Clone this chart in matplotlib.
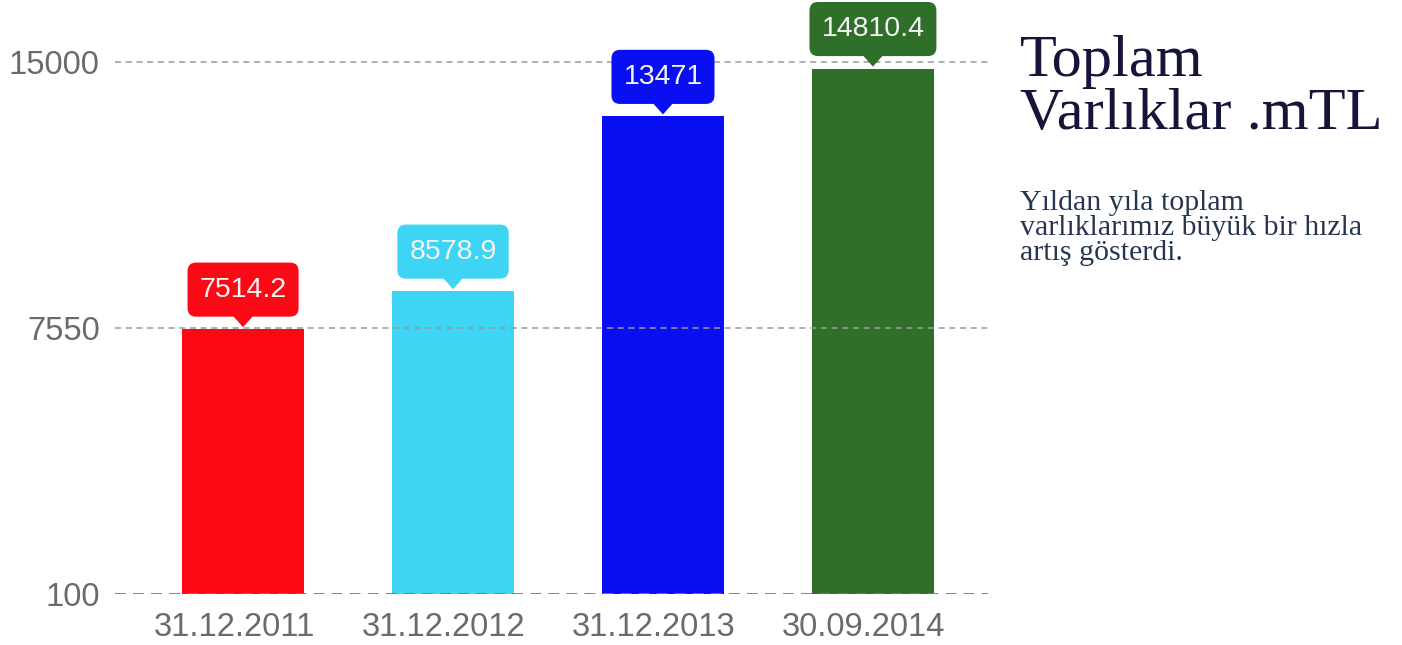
import matplotlib.pyplot as plt
from matplotlib.path import Path
from matplotlib.transforms import ScaledTranslation

tarihler = ["31.12.2011", "31.12.2012", "31.12.2013", "30.09.2014"]
varliklar = [7514.2, 8578.9, 13471, 14810.4]
etiketler = ["7514.2", "8578.9", "13471", "14810.4"]
renkler = ["#fb0a16", "#3ed5f4", "#0a0ff2", "#2f6f29"]
yticks = [100, 7550, 15000]
taban = 100


def kutu(x0, y0, w, h, mutation_size):
    # yuvarlak koseli etiket kutusu, altinda ortada kucuk bir ucgen
    m = mutation_size
    px, H, r = 0.42 * m, 1.9 * m, 0.3 * m
    tw, th = 0.33 * m, 0.37 * m
    cx, cy = x0 + w / 2, y0 + h / 2
    a, b = x0 - px, x0 + w + px
    alt, ust = cy - H / 2, cy + H / 2
    verts = [(a + r, alt), (cx - tw, alt), (cx, alt - th), (cx + tw, alt),
             (b - r, alt), (b, alt), (b, alt + r),
             (b, ust - r), (b, ust), (b - r, ust),
             (a + r, ust), (a, ust), (a, ust - r),
             (a, alt + r), (a, alt), (a + r, alt), (a + r, alt)]
    codes = [Path.MOVETO, Path.LINETO, Path.LINETO, Path.LINETO,
             Path.LINETO, Path.CURVE3, Path.CURVE3,
             Path.LINETO, Path.CURVE3, Path.CURVE3,
             Path.LINETO, Path.CURVE3, Path.CURVE3,
             Path.LINETO, Path.CURVE3, Path.CURVE3, Path.CLOSEPOLY]
    return Path(verts, codes)


fig = plt.figure(figsize=(14.02, 6.45), dpi=100)
ax = fig.add_axes([115 / 1402, 51 / 645, 873 / 1402, 594 / 645])

x = list(range(len(tarihler)))
ax.bar(x, [v - taban for v in varliklar], bottom=taban, width=0.58,
       color=renkler, zorder=1)

for y in yticks:
    if y == taban:
        ax.axhline(y, color="#7a7a7a", lw=1.3, ls=(0, (6, 4)), zorder=2)
    else:
        ax.axhline(y, color="#9a9a9a", lw=1.1, ls=(0, (4, 3)), zorder=2)

for xi, v, e, c in zip(x, varliklar, etiketler, renkler):
    ax.annotate(e, (xi, v), xytext=(0, 28.5), textcoords="offset points",
                ha="center", va="center", fontsize=20.5, color="#f4f4f4",
                family="Liberation Sans", zorder=4, annotation_clip=False,
                bbox=dict(boxstyle=kutu, fc=c, ec="none"))

ax.set_xlim(-0.61, 3.548)
ax.set_ylim(taban, taban + 594 * 28.0)
ax.set_yticks(yticks)
ax.set_yticklabels([str(t) for t in yticks])
ax.set_xticks(x)
ax.set_xticklabels(tarihler)
ax.tick_params(length=0, labelsize=23.5, labelcolor="#6a6a6a")
ax.tick_params(axis="x", pad=13)
ax.tick_params(axis="y", pad=11)
kaydir = ScaledTranslation(-9 / 100, 0, fig.dpi_scale_trans)
for lab in ax.get_xticklabels():
    lab.set_transform(lab.get_transform() + kaydir)
for lab in ax.get_xticklabels() + ax.get_yticklabels():
    lab.set_family("Liberation Sans")
for s in ax.spines.values():
    s.set_visible(False)

baslik = ["Toplam", "Varlıklar .mTL"]
for satir, yb in zip(baslik, [76, 129]):
    fig.text(1020 / 1402, 1 - yb / 645, satir, ha="left", va="baseline",
             fontsize=43.5, family="Liberation Serif", color="#15153a")

aciklama = ["Yıldan yıla toplam", "varlıklarımız büyük bir hızla",
            "artış gösterdi."]
for satir, yb in zip(aciklama, [210, 235, 260]):
    fig.text(1020 / 1402, 1 - yb / 645, satir, ha="left", va="baseline",
             fontsize=21.5, family="Liberation Serif", color="#243650")

fig.savefig("out.png", dpi=100)
